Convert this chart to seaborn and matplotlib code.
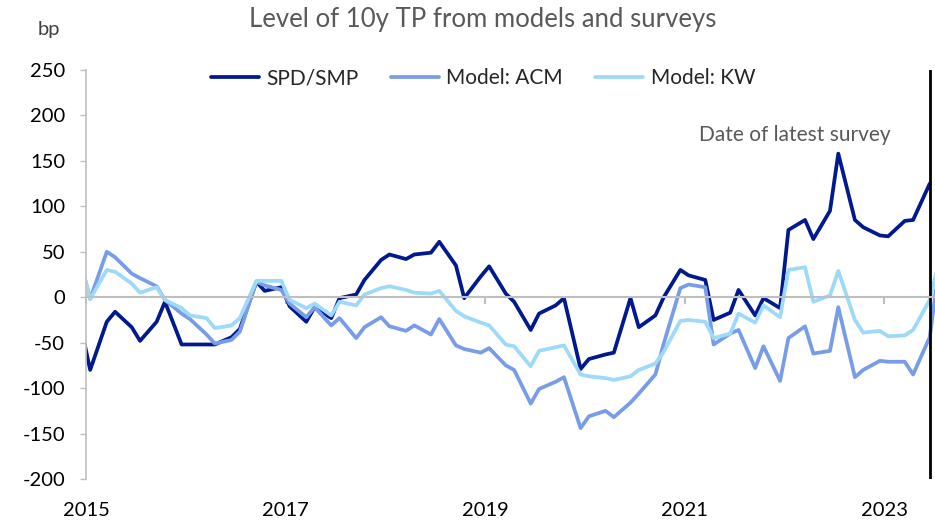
import numpy as np
import pandas as pd
import matplotlib
matplotlib.use("Agg")
import matplotlib.pyplot as plt
import matplotlib.transforms as mtransforms
import seaborn as sns

# ---- data (bp) ----
# survey dates: Dec 2014, then 8 per year, last survey Jun 2023; models have one extra month (Jul 2023)
survey_months = [(2014, 12)] + [(y, m) for y in range(2015, 2023) for m in (1, 3, 4, 6, 7, 9, 10, 12)] \
    + [(2023, 1), (2023, 3), (2023, 4), (2023, 6)]
model_months = survey_months + [(2023, 7)]

spd_smp = [-37,
           -80, -27, -16, -33, -48, -27, -5, -52,
           -52, -52, -52, -44, -35, 17, 7, 11,
           -10, -27, -11, -23, -1, 3, 19, 41,
           47, 42, 47, 49, 61, 35, -1, 23,
           34, 4, -5, -36, -18, -9, -1, -79,
           -68, -63, -61, -1, -33, -20, 0, 30,
           24, 19, -25, -17, 8, -20, -1, -12,
           74, 85, 64, 95, 158, 85, 77, 68,
           67, 84, 85, 125]

model_acm = [33,
             -2, 50, 44, 26, 21, 12, -3, -18,
             -24, -41, -51, -47, -38, 17, 13, 8,
             -7, -22, -11, -31, -23, -45, -33, -22,
             -32, -37, -31, -41, -24, -53, -57, -61,
             -56, -75, -80, -117, -101, -93, -88, -144,
             -131, -125, -132, -116, -106, -85, -51, 10,
             14, 11, -52, -40, -36, -78, -54, -92,
             -45, -32, -62, -59, -11, -88, -80, -70,
             -71, -71, -85, -44, 25]

model_kw = [33,
            -2, 30, 28, 15, 5, 11, -3, -12,
            -20, -23, -34, -31, -23, 18, 18, 18,
            -3, -12, -7, -20, -5, -9, 3, 10,
            12, 8, 5, 4, 7, -15, -21, -28,
            -31, -52, -54, -76, -59, -55, -53, -85,
            -87, -89, -91, -87, -80, -73, -60, -26,
            -25, -27, -45, -40, -18, -28, -9, -22,
            30, 33, -5, 2, 29, -25, -39, -37,
            -43, -42, -36, -3, 35]

series_names = ["SPD/SMP", "Model: ACM", "Model: KW"]
colors = ["#00198F", "#789CE8", "#9DD9F8"]
year_ticks = [2015, 2017, 2019, 2021, 2023]
y_ticks = list(range(-200, 251, 50))
title = "Level of 10y TP from models and surveys"


def to_year(ym):
    return ym[0] + (ym[1] - 0.5) / 12.0


frames = []
for name, months, vals in [(series_names[0], survey_months, spd_smp),
                           (series_names[1], model_months, model_acm),
                           (series_names[2], model_months, model_kw)]:
    frames.append(pd.DataFrame({"date": [to_year(m) for m in months],
                                "value": vals, "series": name}))
df = pd.concat(frames, ignore_index=True)
last_survey = to_year(survey_months[-1])

# ---- figure ----
sns.set_theme(style="white")
plt.rcParams["font.family"] = ["Lato", "DejaVu Sans"]

W, H = 935, 524
fig = plt.figure(figsize=(W / 100, H / 100), dpi=100)
left_px, right_px, top_px, bot_px = 86, 935, 70, 479
ax = fig.add_axes([left_px / W, 1 - bot_px / H, (right_px - left_px) / W, (bot_px - top_px) / H])

sns.lineplot(data=df, x="date", y="value", hue="series", hue_order=series_names,
             palette=colors, linewidth=2.7, ax=ax, legend=True, sort=False)

x0 = 2015.0
x1 = 2015.0 + (right_px - left_px) / 99.75
ax.set_xlim(x0, x1)
ax.set_ylim(-200, 250)
ax.set_xlabel("")
ax.set_ylabel("")

FS = 14.5

# spines
for s in ["top", "right"]:
    ax.spines[s].set_visible(False)
ax.spines["left"].set_color("#BFBFBF")
ax.spines["left"].set_linewidth(1.2)
ax.spines["bottom"].set_position(("data", 0))
ax.spines["bottom"].set_color("#BFBFBF")
ax.spines["bottom"].set_linewidth(1.5)

ax.set_yticks(y_ticks)
ax.set_yticklabels([str(v) for v in y_ticks], fontsize=FS, color="black")
ax.tick_params(axis="y", direction="out", length=4, width=1, color="#BFBFBF", pad=11, left=True)
ax.set_xticks(year_ticks)
ax.tick_params(axis="x", direction="out", length=5, width=1.5, color="#BFBFBF", bottom=True, labelbottom=False)

# x labels at the bottom of the chart
trans = mtransforms.blended_transform_factory(ax.transData, ax.transAxes)
for yr in year_ticks:
    ax.text(yr, -0.078, str(yr), transform=trans, ha="center", va="center", fontsize=FS, color="black")

# latest survey line and label
ax.axvline(last_survey, color="black", linewidth=2)
ax.text(2022.11, 179, "Date of latest survey", ha="center", va="center", fontsize=15, color="#595959")

# legend
handles, labels = ax.get_legend_handles_labels()
ax.legend(handles, labels, loc="center", bbox_to_anchor=(0.468, 0.98), ncol=3, frameon=False,
          fontsize=15, handlelength=2.3, handletextpad=0.35, columnspacing=1.55)

fig.text(483 / W, 1 - 20 / H, title, ha="center", va="center", fontsize=18.5, color="#595959")
fig.text(49 / W, 1 - 30 / H, "bp", ha="center", va="center", fontsize=FS, color="#404040")

fig.savefig("out.png", dpi=100)
